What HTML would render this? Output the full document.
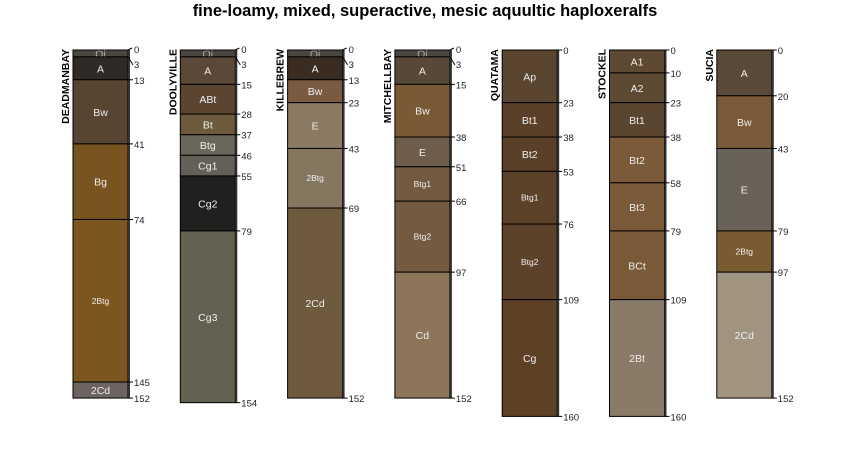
<!DOCTYPE html>
<html><head><meta charset="utf-8"><style>
html,body{margin:0;padding:0;background:#fff;width:850px;height:450px;overflow:hidden}
text{font-family:"Liberation Sans",sans-serif}
</style></head><body>
<svg id="chart" width="850" height="450" viewBox="0 0 850 450">
<text x="425" y="16" text-anchor="middle" font-size="16.5" font-weight="bold">fine-loamy, mixed, superactive, mesic aquultic haploxeralfs</text>
<g id="profiles"></g>
</svg>
<script>
const profileNames = ["DEADMANBAY","DOOLYVILLE","KILLEBREW","MITCHELLBAY","QUATAMA","STOCKEL","SUCIA"];
const horizonNames = [
 ["Oi","A","Bw","Bg","2Btg","2Cd"],
 ["Oi","A","ABt","Bt","Btg","Cg1","Cg2","Cg3"],
 ["Oi","A","Bw","E","2Btg","2Cd"],
 ["Oi","A","Bw","E","Btg1","Btg2","Cd"],
 ["Ap","Bt1","Bt2","Btg1","Btg2","Cg"],
 ["A1","A2","Bt1","Bt2","Bt3","BCt","2Bt"],
 ["A","Bw","E","2Btg","2Cd"]
];
const horizonDepths = [
 [0,3,13,41,74,145,152],
 [0,3,15,28,37,46,55,79,154],
 [0,3,13,23,43,69,152],
 [0,3,15,38,51,66,97,152],
 [0,23,38,53,76,109,160],
 [0,10,23,38,58,79,109,160],
 [0,20,43,79,97,152]
];
const horizonColors = [
 ["#4c4640","#2f2a25","#574532","#7a5420","#7d561f","#6b6460"],
 ["#4c4640","#5a4838","#5a4530","#6e5a3c","#6b665a","#63605a","#1f211f","#646052"],
 ["#4c4640","#3a2c20","#7a5a40","#8a7a62","#857660","#6e5a3c"],
 ["#4c4640","#574838","#7a5a35","#6e5d4a","#735a40","#735a40","#8c7558"],
 ["#5a4530","#5a4028","#5a4028","#5c4228","#5c4228","#5e4024"],
 ["#5e4a32","#5e4a32","#5a4530","#7a5a38","#7a5a38","#7a5a38","#8a7a68"],
 ["#5a4a3a","#7a5a38","#6a6258","#7a5a30","#a09480"]
];
const NS="http://www.w3.org/2000/svg";
const g=document.getElementById("profiles");
const yScale=d=>50+d*2.29;
const xScale=i=>73+i*107.3;
const W=55;
function mk(tag,attrs,parent){const e=document.createElementNS(NS,tag);for(const k in attrs)e.setAttribute(k,attrs[k]);parent.appendChild(e);return e;}
profileNames.forEach((name,i)=>{
  const x=xScale(i);
  const pg=mk("g",{},g);
  
  
  const nt=mk("text",{x:0,y:0,transform:`translate(${x-4},49) rotate(-90)`,"text-anchor":"end","font-size":"10.5","font-weight":"bold"},pg);
  nt.textContent=name;
  
  
  const d=horizonDepths[i];
  const hasOi=horizonNames[i][0]==="Oi";
  horizonNames[i].forEach((h,j)=>{
    const y0=yScale(d[j]),y1=yScale(d[j+1]);
    const r=mk("rect",{x:x,y:y0,width:W,height:y1-y0,fill:horizonColors[i][j],stroke:"#000","stroke-width":"1"},pg);
    
    
    const small=/Btg/.test(h)&&h!=="Btg";
    const t=mk("text",{x:x+W/2,y:(y0+y1)/2+(small?3:4),"text-anchor":"middle","font-size":small?"8.5":"10.5",fill:h==="Oi"?"#aaa":"#eee"},pg);
    t.textContent=h;
    
    
  });
  mk("line",{x1:x+W+1,y1:yScale(0),x2:x+W+1,y2:yScale(d[d.length-1]),stroke:"#333","stroke-width":"2"},pg);
  d.forEach((dv,k)=>{
    let ly=yScale(dv);
    let ty=ly+4;
    if(hasOi&&k===0){ty=ly+3;mk("path",{d:`M${x+W} ${ly} L${x+W+4} ${ly-2}`,stroke:"#000",fill:"none"},pg);}
    else if(hasOi&&k===1){ty=ly+11;mk("path",{d:`M${x+W} ${ly} L${x+W+5} ${ly+8}`,stroke:"#000",fill:"none"},pg);}
    else mk("line",{x1:x+W,y1:ly,x2:x+W+5,y2:ly,stroke:"#000"},pg);
    const lt=mk("text",{x:x+W+6,y:ty,"font-size":"9.5",fill:"#222"},pg);
    lt.textContent=dv;
    
    
  });
});
</script>
</body></html>
